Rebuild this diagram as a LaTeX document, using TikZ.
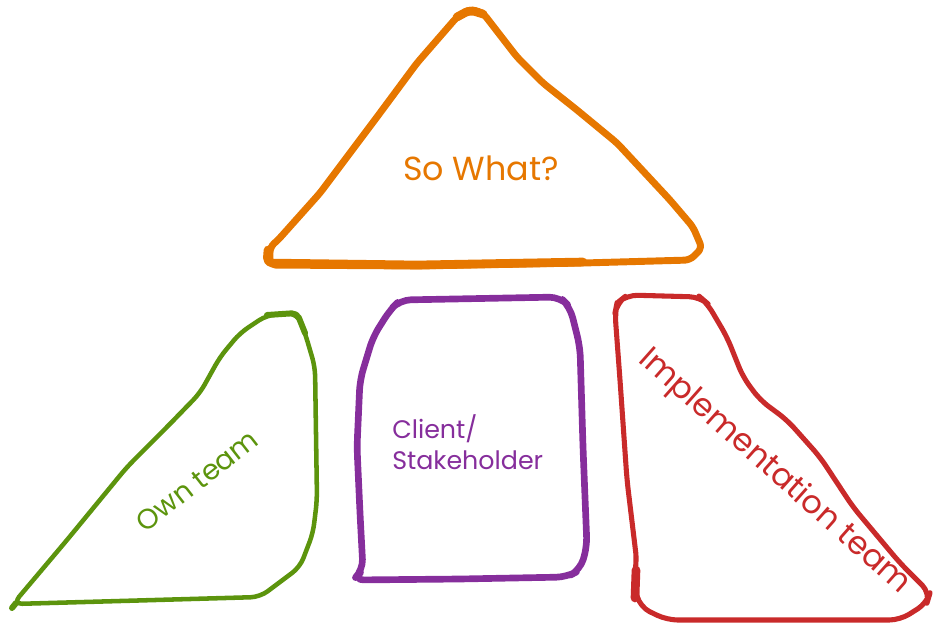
\documentclass[tikz,border=0pt]{standalone}
\usepackage{fontspec}
\setmainfont{Poppins}
\definecolor{sowhat}{HTML}{E67700}
\definecolor{ownteam}{HTML}{5C940D}
\definecolor{client}{HTML}{862E9C}
\definecolor{impl}{HTML}{C92A2A}
\tikzset{
  sketch/.style = {line join=round, line cap=round, rounded corners=4},
  handtext/.style = {font=\fontsize{#1}{1.25\dimexpr#1\relax}\selectfont, inner sep=0pt},
  handtext/.default = {18pt}
}

\begin{document}
\begin{tikzpicture}[x=0.75pt, y=-0.75pt]
  \useasboundingbox (0,0) rectangle (940,637);
  % top triangle
  \draw[sketch, sowhat, line width=5.2pt]
    (270,247) -- (278,240) -- (320,193) -- (377,117) -- (417,63) -- (457,17)
    -- (470,9) -- (483,13) -- (517,57) -- (543,83) -- (577,110) -- (617,143)
    -- (670,200) -- (693,227) -- (702,248) -- (690,260) -- (583,263)
    -- (417,266) -- (270,265) -- cycle;
  \draw[sketch, sowhat, line width=6.5pt] (268,250) -- (267,263) -- (417,265) -- (583,262);
  \draw[sketch, sowhat, line width=6.5pt] (457,17) -- (470,10) -- (483,14);
  \node[handtext=25pt, text=sowhat] (sowhat) at (481,168) {So What?};
  % own team
  \draw[sketch, ownteam, line width=3.4pt, rounded corners=7]
    (13,604) -- (67,540) -- (127,467) -- (167,427) -- (200,393) -- (220,357)
    -- (240,333) -- (267,315) -- (297,313) -- (305,333) -- (315,367)
    -- (317,500) -- (313,533) -- (300,567) -- (260,597) -- (120,601) -- cycle;
  \draw[sketch, ownteam, line width=4.5pt] (267,315) -- (297,313) -- (305,333);
  \draw[sketch, ownteam, line width=4.5pt] (12,608) -- (16,603);
  \node[handtext=21pt, text=ownteam, rotate=38] (own) at (197,481) {Own team};
  % client / stakeholder
  \draw[sketch, client, line width=5pt, rounded corners=8]
    (353,580) -- (363,570) -- (360,513) -- (357,447) -- (360,380) -- (373,337)
    -- (390,310) -- (400,300) -- (560,297) -- (570,307) -- (580,347)
    -- (583,447) -- (587,547) -- (580,570) -- (567,577) -- (460,579) -- cycle;
  \node[handtext=19pt, text=client, align=left, anchor=north west] (client)
    at (392,414) {Client/\\Stakeholder};
  % implementation team
  \draw[sketch, impl, line width=3.8pt, rounded corners=8]
    (637,563) -- (627,480) -- (620,380) -- (615,313) -- (617,303) -- (627,295)
    -- (700,297) -- (707,303) -- (727,337) -- (743,377) -- (760,400)
    -- (787,420) -- (820,457) -- (853,507) -- (900,563) -- (930,593)
    -- (927,603) -- (900,620) -- (667,620) -- (640,607) -- (633,580) -- cycle;
  \draw[sketch, impl, line width=6.5pt] (636,570) -- (635,598);
  \node[handtext=24pt, text=impl, rotate=-41.6] (impl) at (774,472) {Implementation team};
\end{tikzpicture}
\end{document}
